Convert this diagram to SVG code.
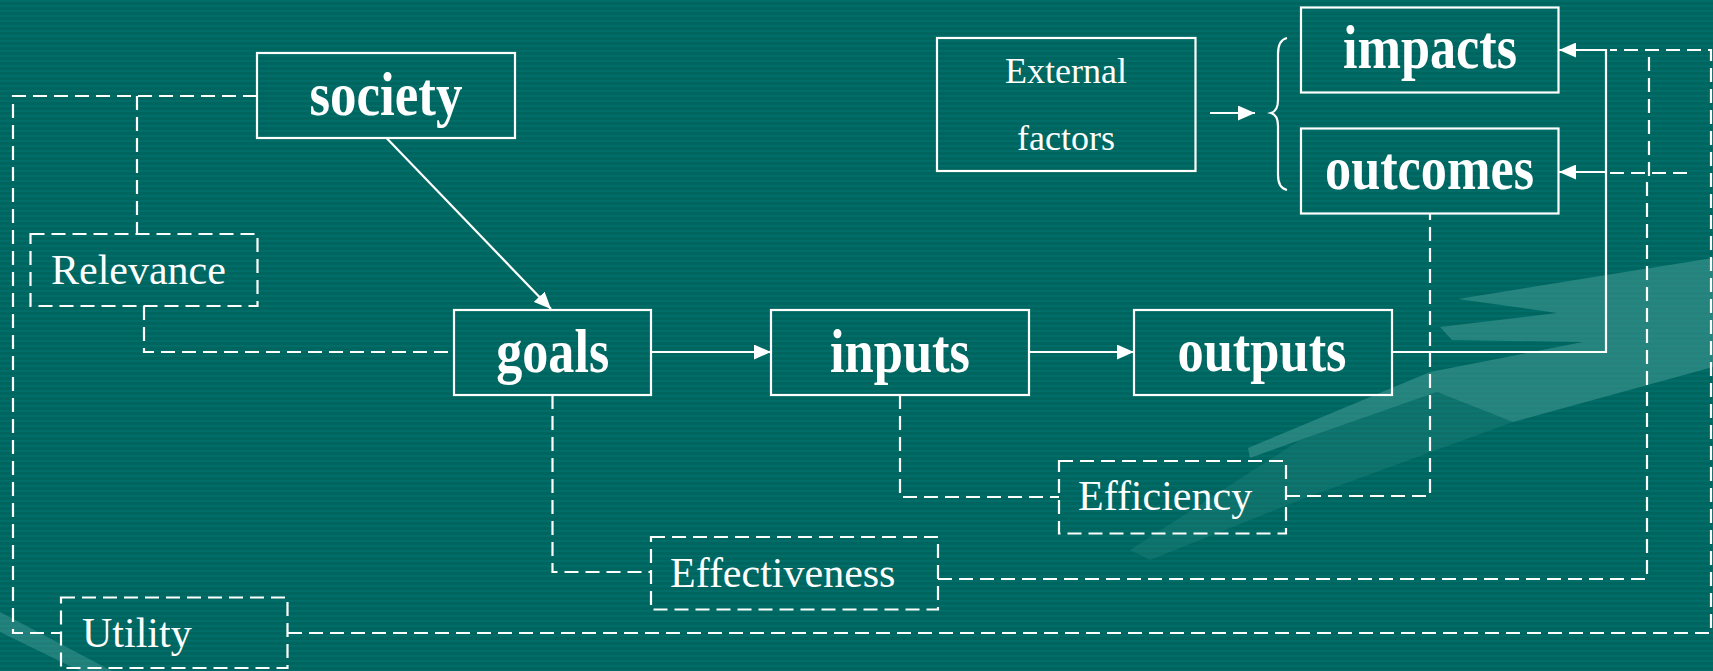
<svg xmlns="http://www.w3.org/2000/svg" width="1713" height="671" viewBox="0 0 1713 671">
<style>
.box{fill:none;stroke:#ffffff;stroke-width:2.2}
.dbox{fill:none;stroke:#ffffff;stroke-width:2.2;stroke-dasharray:14 7}
.line{fill:none;stroke:#ffffff;stroke-width:2.2}
.dash{fill:none;stroke:#ffffff;stroke-width:2.2;stroke-dasharray:14 7}
.big{font-family:"Liberation Serif","Times New Roman",serif;font-weight:bold;font-size:62px;fill:#ffffff;text-anchor:middle}
.lbl{font-family:"Liberation Serif","Times New Roman",serif;font-size:42px;fill:#ffffff}
.ext{font-family:"Liberation Serif","Times New Roman",serif;font-size:36px;fill:#ffffff;text-anchor:middle}
</style>
<defs>
<pattern id="stripes" width="8" height="5" patternUnits="userSpaceOnUse">
<rect width="8" height="5" fill="#00655f"/>
<rect y="0" width="8" height="2" fill="#006d68"/>
</pattern>
<marker id="arr" viewBox="0 0 16 14" refX="16" refY="7" markerWidth="17" markerHeight="15" markerUnits="userSpaceOnUse" orient="auto">
<path d="M0,0 L16,7 L0,14 Z" fill="#ffffff"/>
</marker>
</defs>
<rect width="1713" height="671" fill="url(#stripes)"/>
<g id="background-swoosh" fill="#5fb0a8">
<path opacity="0.4" d="M1458,299 L1600,276 L1713,258 L1713,367 L1513,422 L1437,392 L1300,440 L1250,458 L1248,448 L1430,372 L1583,342 L1452,340 L1440,327 L1557,313 Z"/>
<path opacity="0.15" d="M1437,392 L1513,422 L1300,500 L1150,560 L1130,550 L1300,440 Z"/>
<path opacity="0.35" d="M0,612 L0,632 L80,671 L112,671 Z"/>
</g>
<g id="connectors">
<line class="line" x1="386.5" y1="138" x2="551" y2="309" marker-end="url(#arr)"/>
<line class="line" x1="651" y1="352" x2="771" y2="352" marker-end="url(#arr)"/>
<line class="line" x1="1029" y1="352" x2="1134" y2="352" marker-end="url(#arr)"/>
<polyline class="line" points="1392,352 1606,352 1606,50 1559,50" marker-end="url(#arr)"/>
<line class="line" x1="1606" y1="172" x2="1559" y2="172" marker-end="url(#arr)"/>
<line class="line" x1="1210" y1="113" x2="1255" y2="113" marker-end="url(#arr)"/>
<polyline class="dash" points="257,96 13,96 13,633 61,633"/>
<polyline class="dash" points="137,96 137,234"/>
<polyline class="dash" points="144,306 144,352 454,352"/>
<polyline class="dash" points="552.5,395 552.5,572 651,572"/>
<polyline class="dash" points="938,579 1647,579 1647,175"/>
<polyline class="dash" points="900,395 900,497 1059,497"/>
<polyline class="dash" points="1286,496 1430,496 1430,214"/>
<polyline class="dash" points="288,633 1711,633 1711,50 1610,50"/>
<polyline class="dash" points="1610,173 1693,173"/>
<polyline class="dash" points="1649,57 1649,183"/>
</g>
<g id="society"><rect class="box" x="257" y="53" width="258" height="85"/><text class="big" x="386" y="115" textLength="153" lengthAdjust="spacingAndGlyphs">society</text></g>
<g id="goals"><rect class="box" x="454" y="310" width="197" height="85"/><text class="big" x="552.7" y="372" textLength="113" lengthAdjust="spacingAndGlyphs">goals</text></g>
<g id="inputs"><rect class="box" x="771" y="310" width="258" height="85"/><text class="big" x="900" y="372" textLength="140" lengthAdjust="spacingAndGlyphs">inputs</text></g>
<g id="outputs"><rect class="box" x="1134" y="310" width="258" height="85"/><text class="big" x="1262" y="371" textLength="169" lengthAdjust="spacingAndGlyphs">outputs</text></g>
<g id="impacts"><rect class="box" x="1301" y="7.5" width="257.5" height="85"/><text class="big" x="1430" y="68" textLength="174" lengthAdjust="spacingAndGlyphs">impacts</text></g>
<g id="outcomes"><rect class="box" x="1301" y="128.5" width="257.5" height="85"/><text class="big" x="1429.5" y="188.5" textLength="209" lengthAdjust="spacingAndGlyphs">outcomes</text></g>
<g id="external-factors"><rect class="box" x="937" y="38" width="258.5" height="133"/><text class="ext" x="1066" y="83">External</text><text class="ext" x="1066" y="150">factors</text></g>
<g id="brace"><path class="line" stroke-width="1.6" d="M1287,38 Q1278,40 1278,54 L1278,100 Q1278,111 1271,113 Q1278,115 1278,126 L1278,175 Q1278,188 1287,190"/></g>
<g id="relevance"><rect class="dbox" x="30.5" y="234" width="227" height="72"/><text class="lbl" x="51" y="284">Relevance</text></g>
<g id="efficiency"><rect class="dbox" x="1059" y="461" width="227" height="72.5"/><text class="lbl" x="1078" y="510">Efficiency</text></g>
<g id="effectiveness"><rect class="dbox" x="651" y="537" width="287" height="72.5"/><text class="lbl" x="670" y="587">Effectiveness</text></g>
<g id="utility"><rect class="dbox" x="61" y="597.5" width="226.5" height="70.5"/><text class="lbl" x="82" y="647">Utility</text></g>
</svg>
